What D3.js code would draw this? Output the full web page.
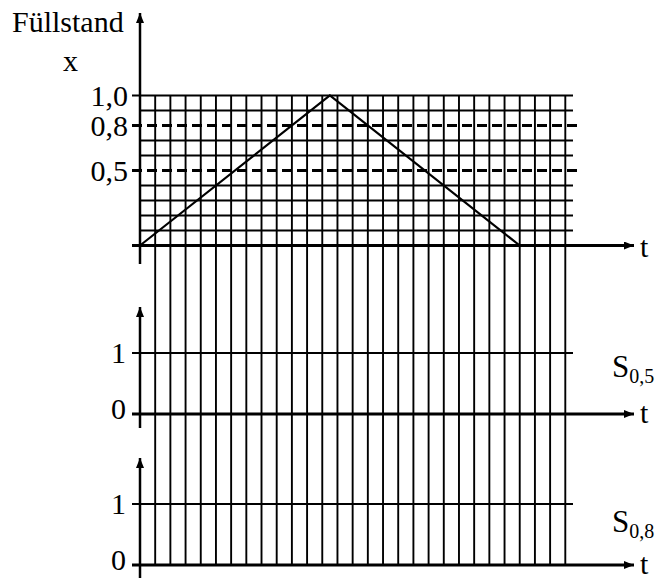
<!DOCTYPE html>
<html>
<head>
<meta charset="utf-8">
<script src="https://cdn.jsdelivr.net/npm/d3@7"></script>
<style>
  body { margin: 0; background: #fff; }
  text { font-family: "Liberation Serif", "Times New Roman", serif; fill: #000; }
</style>
</head>
<body>
<svg></svg>
<script>
// Füllstand + Schaltsignale

let svgWidth = 656;
let svgHeight = 579;

// data
let tCells = 28;                       // grid columns along t
let levels = [0, 0.1, 0.2, 0.3, 0.4, 0.5, 0.6, 0.7, 0.8, 0.9, 1.0];
let triT = [0, 12.5, 25];              // Füllstand x(t)
let triX = [0, 1, 0];
let thresholds = [0.5, 0.8];
let levelLabels = ["1,0", "0,8", "0,5"];
let levelLabelVals = [1.0, 0.8, 0.5];
let switchLabels = ["0,5", "0,8"];
let binLabels = ["0", "1"];
let binVals = [0, 1];

let svg = d3.select("svg")
	.attr("width", svgWidth)
	.attr("height", svgHeight);

let defs = svg.append("defs");
defs.append("marker")
	.attr("id", "arr")
	.attr("viewBox", "0 0 10 8")
	.attr("refX", 10).attr("refY", 4)
	.attr("markerWidth", 10).attr("markerHeight", 8)
	.attr("markerUnits", "userSpaceOnUse")
	.attr("orient", "auto")
	.append("path").attr("d", "M0,0 L10,4 L0,8 Z").attr("fill", "#000");

let xScale = d3.scaleLinear().domain([0, tCells]).range([140, 565.3]);
let yTop = d3.scaleLinear().domain([0, 1]).range([245.5, 95.5]);
let yS5 = d3.scaleLinear().domain([0, 1]).range([414, 353]);
let yS8 = d3.scaleLinear().domain([0, 1]).range([565, 504]);

let x0 = xScale(0);
let gridRight = 573;
let arrowEnd = 634;

// vertical grid lines (run through all three panels)
svg.append("g").selectAll("line")
	.data(d3.range(1, tCells + 1))
	.enter().append("line")
	.attr("x1", d => xScale(d)).attr("x2", d => xScale(d))
	.attr("y1", yTop(1)).attr("y2", yS8(0))
	.attr("stroke", "#000").attr("stroke-width", 1.9);

// horizontal grid lines top panel
svg.append("g").selectAll("line")
	.data(levels.filter(d => d > 0 && thresholds.indexOf(d) < 0))
	.enter().append("line")
	.attr("x1", d => levelLabelVals.indexOf(d) >= 0 ? 132 : x0)
	.attr("x2", gridRight)
	.attr("y1", d => yTop(d)).attr("y2", d => yTop(d))
	.attr("stroke", "#000").attr("stroke-width", 2.2);

// threshold dashed lines
svg.append("g").selectAll("line")
	.data(thresholds)
	.enter().append("line")
	.attr("x1", 132).attr("x2", 577)
	.attr("y1", d => yTop(d)).attr("y2", d => yTop(d))
	.attr("stroke", "#000").attr("stroke-width", 3)
	.attr("stroke-dasharray", "10,5");

// level labels
svg.append("g").selectAll("text")
	.data(levelLabelVals)
	.enter().append("text")
	.attr("x", 128).attr("y", d => yTop(d) + 10)
	.attr("text-anchor", "end")
	.style("font-size", "30px")
	.text((d, i) => levelLabels[i]);

// triangle
let line = d3.line()
	.x(d => xScale(d[0]))
	.y(d => yTop(d[1]));
svg.append("path")
	.datum(triT.map((t, i) => [t, triX[i]]))
	.attr("d", line)
	.attr("fill", "none").attr("stroke", "#000").attr("stroke-width", 2.2);

// top axes
svg.append("line")
	.attr("x1", x0).attr("x2", x0).attr("y1", 264).attr("y2", 13)
	.attr("stroke", "#000").attr("stroke-width", 2.5)
	.attr("marker-end", "url(#arr)");
svg.append("line")
	.attr("x1", 132).attr("x2", arrowEnd).attr("y1", yTop(0)).attr("y2", yTop(0))
	.attr("stroke", "#000").attr("stroke-width", 3)
	.attr("marker-end", "url(#arr)");
svg.append("text").attr("x", 12).attr("y", 32)
	.style("font-size", "30px").text("Füllstand");
svg.append("text").attr("x", 63).attr("y", 71)
	.style("font-size", "30px").text("x");
svg.append("text").attr("x", 640).attr("y", 257)
	.style("font-size", "30px").text("t");

// switch panels
let panels = [
	{ y: yS5, top: 307, bottom: 428, lab: switchLabels[0], labY: 377 },
	{ y: yS8, top: 458, bottom: 578, lab: switchLabels[1], labY: 532 }
];

panels.forEach(function (p) {
	let g = svg.append("g");
	// "1" line
	g.append("line")
		.attr("x1", 132).attr("x2", gridRight)
		.attr("y1", p.y(1)).attr("y2", p.y(1))
		.attr("stroke", "#000").attr("stroke-width", 2.2);
	// t-axis
	g.append("line")
		.attr("x1", 132).attr("x2", arrowEnd)
		.attr("y1", p.y(0)).attr("y2", p.y(0))
		.attr("stroke", "#000").attr("stroke-width", 3)
		.attr("marker-end", "url(#arr)");
	// y-axis
	g.append("line")
		.attr("x1", x0).attr("x2", x0)
		.attr("y1", p.bottom).attr("y2", p.top)
		.attr("stroke", "#000").attr("stroke-width", 2.5)
		.attr("marker-end", "url(#arr)");
	g.selectAll("text.bin")
		.data(binVals)
		.enter().append("text")
		.attr("class", "bin")
		.attr("x", 126).attr("y", d => p.y(d) + (d === 0 ? 5 : 10))
		.attr("text-anchor", "end")
		.style("font-size", "30px")
		.text((d, i) => binLabels[i]);
	g.append("text").attr("x", 640).attr("y", p.y(0) + 9)
		.style("font-size", "30px").text("t");
	let s = g.append("text").attr("x", 612).attr("y", p.labY)
		.style("font-size", "31px");
	s.append("tspan").text("S");
	s.append("tspan").attr("dy", 6).style("font-size", "20px").text(p.lab);
});
</script>
</body>
</html>
